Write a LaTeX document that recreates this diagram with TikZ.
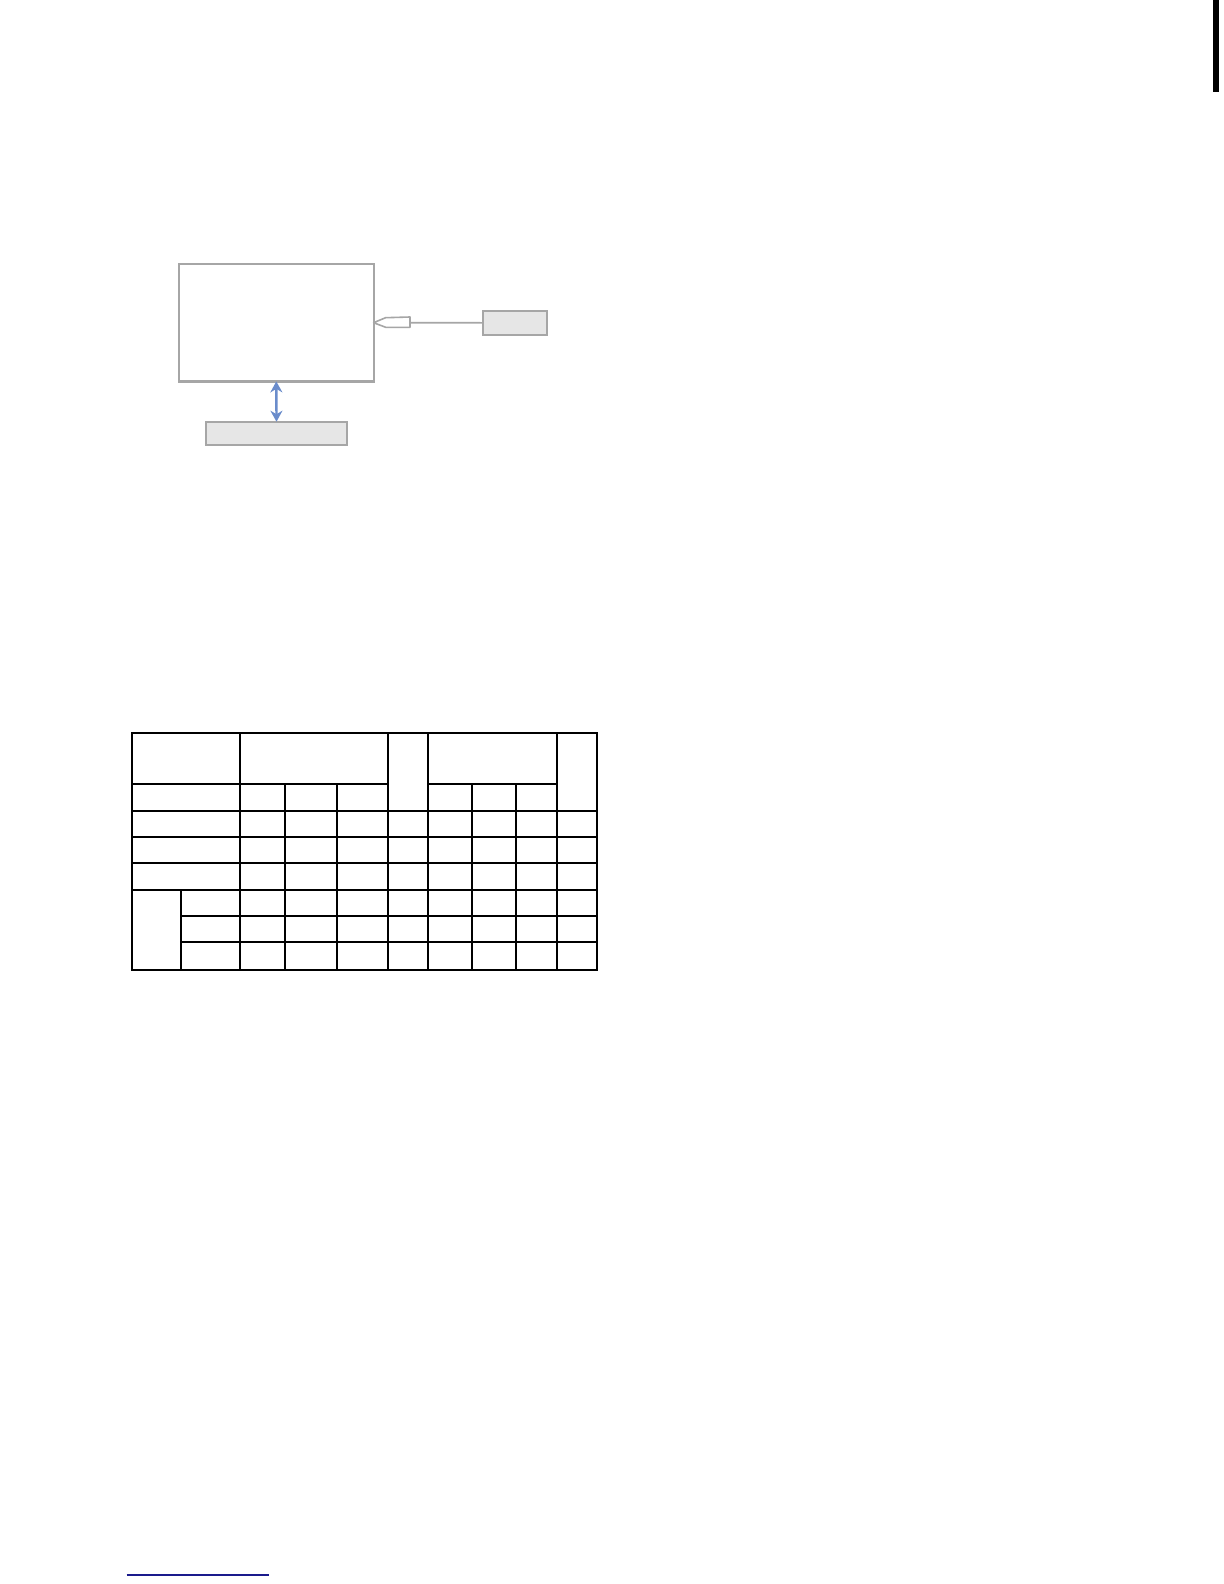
\documentclass[tikz,border=0pt]{standalone}
\usetikzlibrary{arrows.meta}
\definecolor{boxgray}{HTML}{A6A6A6}
\definecolor{fillgray}{HTML}{E6E6E6}
\definecolor{arrblue}{HTML}{6A8CCB}
\definecolor{linkblue}{HTML}{1A1A8C}
\tikzset{
  plainbox/.style={draw=boxgray, line width=1.1pt, fill=white, inner sep=0pt, outer sep=0pt},
  graybox/.style={draw=boxgray, line width=0.9pt, fill=fillgray, inner sep=0pt, outer sep=0pt},
  tline/.style={line width=1pt, black},
}
\begin{document}
\begin{tikzpicture}[x=0.5pt,y=-0.5pt]
\useasboundingbox[fill=white] (0,0) rectangle (1224,1584);
% top-right bar
\fill[black] (1213,0) rectangle (1219,92);
% diagram
\node[plainbox, minimum width=97.3pt, minimum height=58.7pt] (big) at (276.3,322.7) {};
\node[graybox, minimum width=32pt, minimum height=11.85pt] (rbox) at (515.3,322.8) {};
\node[graybox, minimum width=70.8pt, minimum height=11.5pt] (bbox) at (276.5,433.2) {};
\draw[boxgray, line width=0.8pt] (big.east) -- (rbox.west);
\draw[boxgray, line width=0.8pt, fill=white, line join=round] (big.east) -- ++(12,-5) -- (410,317) -- (410,327.3) -- (385.7,327.3) -- cycle;
\draw[arrblue, line width=1.2pt, {Stealth[length=5.5pt,width=6pt]}-{Stealth[length=5.5pt,width=6pt]}] (big.south) -- (bbox.north);
% table
\def\ca{132.3}\def\cb{181}\def\cc{240.3}\def\cd{285.3}\def\ce{337.3}\def\cf{388.3}\def\cg{428.3}\def\ch{472.3}\def\ci{515.7}\def\cj{557.3}\def\ck{597.3}
\def\ra{732.7}\def\rb{784}\def\rc{811}\def\rd{837.3}\def\re{863.3}\def\rf{890.3}\def\rg{916.3}\def\rh{942.3}\def\ri{970}
\draw[tline] (\ca,\ra) rectangle (\ck,\ri);
% horizontal lines
\draw[tline] (\ca,\rb) -- (\cf,\rb);
\draw[tline] (\cg,\rb) -- (\cj,\rb);
\foreach \r in {\rc,\rd,\re,\rf} \draw[tline] (\ca,\r) -- (\ck,\r);
\foreach \r in {\rg,\rh} \draw[tline] (\cb,\r) -- (\ck,\r);
% vertical lines
\foreach \c in {\cc,\cf,\cg,\cj} \draw[tline] (\c,\ra) -- (\c,\ri);
\foreach \c in {\cd,\ce,\ch,\ci} \draw[tline] (\c,\rb) -- (\c,\ri);
\draw[tline] (\cb,\rf) -- (\cb,\ri);
% bottom link line
\draw[linkblue, line width=0.7pt] (126.7,1575) -- (269,1575);
\end{tikzpicture}
\end{document}
